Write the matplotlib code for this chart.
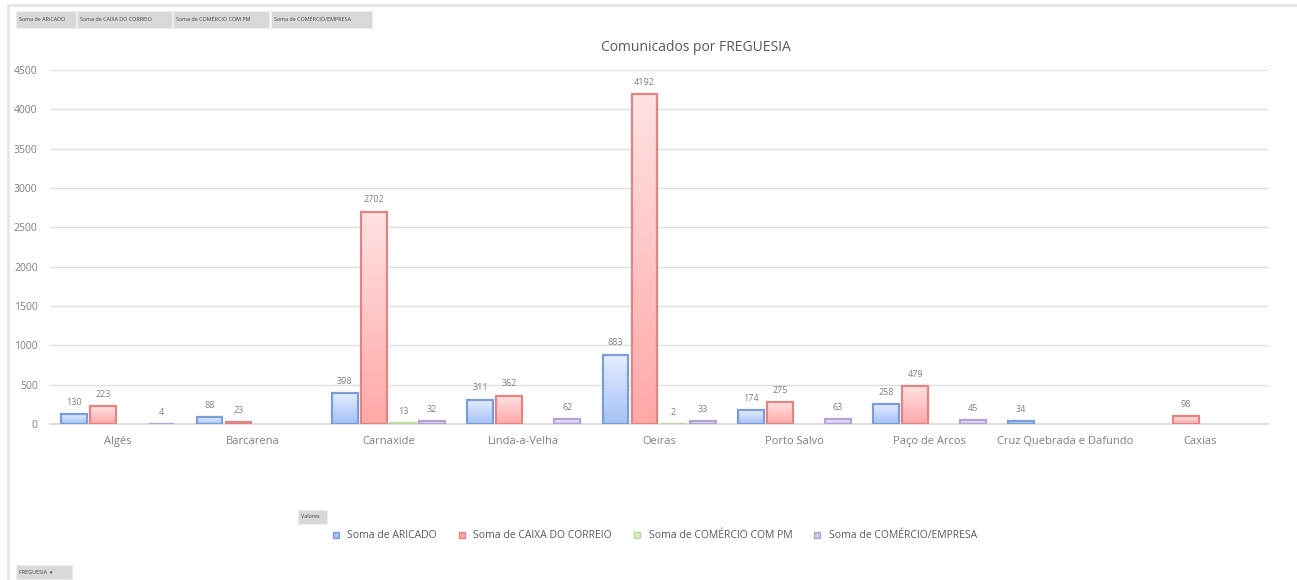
import numpy as np
import matplotlib.pyplot as plt
from matplotlib.colors import to_rgb
from matplotlib.patches import Rectangle
from matplotlib.lines import Line2D

freguesias = ['Algés', 'Barcarena', 'Carnaxide', 'Linda-a-Velha', 'Oeiras',
              'Porto Salvo', 'Paço de Arcos', 'Cruz Quebrada e Dafundo', 'Caxias']
series = ['Soma de ARICADO', 'Soma de CAIXA DO CORREIO',
          'Soma de COMÉRCIO COM PM', 'Soma de COMÉRCIO/EMPRESA']
aricado = [130, 88, 398, 311, 883, 174, 258, 34, None]
caixa = [223, 23, 2702, 362, 4192, 275, 479, None, 98]
comercio_pm = [None, None, 13, None, 2, None, None, None, None]
comercio_emp = [4, None, 32, 62, 33, 63, 45, None, None]
yticks = [0, 500, 1000, 1500, 2000, 2500, 3000, 3500, 4000, 4500]

values = [aricado, caixa, comercio_pm, comercio_emp]
edges = ['#7a9fd6', '#e08484', '#b9d99a', '#b3a2d4']
tops = ['#e6eeff', '#ffe2e2', '#f2f8ea', '#f0ecfa']
bottoms = ['#a6c2f7', '#ffa8a8', '#d9eec6', '#d2c6ee']

plt.rcParams['font.family'] = ['Open Sans', 'DejaVu Sans']
grey = '#7f7f7f'

W, H = 1297, 580
fig = plt.figure(figsize=(W / 100, H / 100), dpi=100)
ax = fig.add_axes([0.0386, 0.269, 0.939, 0.61])

x = np.arange(len(freguesias))
step = 0.215
width = 0.19

t = np.linspace(0, 1, 64).reshape(-1, 1, 1)
for i, vals in enumerate(values):
    grad = np.array(to_rgb(tops[i])) * (1 - t) + np.array(to_rgb(bottoms[i])) * t
    for j, v in enumerate(vals):
        if v is None:
            continue
        xc = x[j] + (i - 1.5) * step
        bar = ax.bar(xc, v, width, color='none', edgecolor=edges[i],
                     linewidth=1.6, zorder=3)[0]
        im = ax.imshow(grad, extent=[xc - width / 2, xc + width / 2, 0, v],
                       aspect='auto', origin='upper', zorder=2)
        im.set_clip_path(bar)
        ax.text(xc, v + 90, str(v), ha='center', va='bottom',
                fontsize=6.5, color=grey, zorder=4)

ax.set_xlim(-0.5, len(freguesias) - 0.5)
ax.set_ylim(0, 4500)
ax.set_yticks(yticks)
ax.set_xticks(x)
ax.set_xticklabels(freguesias, fontsize=8, color=grey)
ax.tick_params(axis='y', labelsize=7.5, labelcolor=grey, length=0, pad=9)
ax.tick_params(axis='x', length=0, pad=9)
ax.grid(axis='y', color='#e0e0e0', linewidth=1, zorder=0)
for s in ['top', 'right', 'left']:
    ax.spines[s].set_visible(False)
ax.spines['bottom'].set_color('#d9d9d9')
ax.spines['bottom'].set_linewidth(1.2)
ax.set_title('Comunicados por FREGUESIA', fontsize=10, color='#595959', pad=14, x=0.53)

# chart frame
fig.patches.append(Rectangle((8 / W, -0.01), 1.1, (H - 5) / H + 0.01,
                             transform=fig.transFigure, fill=False,
                             edgecolor='#e6e6e6', linewidth=2))


def button(x0, x1, y0, y1, label):
    fig.patches.append(Rectangle((x0 / W, 1 - y1 / H), (x1 - x0) / W, (y1 - y0) / H,
                                 transform=fig.transFigure, facecolor='#d9d9d9',
                                 edgecolor='#ececec', linewidth=0.8))
    fig.text((x0 + 3) / W, 1 - (y0 + y1) / 2 / H, label, fontsize=3.9,
             color='#404040', va='center', ha='left')


# pivot field buttons
btn_spans = [(16, 76), (77, 172), (173, 269), (271, 372)]
for (b0, b1), name in zip(btn_spans, series):
    button(b0, b1, 11, 28, name)
button(298, 327, 510, 524, 'Valores')
button(16, 72, 565, 579, 'FREGUESIA  ▾')

handles = [Line2D([0], [0], marker='s', linestyle='none', markersize=5,
                  markerfacecolor=bottoms[i], markeredgecolor=edges[i]) for i in range(4)]
fig.legend(handles, series, loc='center', bbox_to_anchor=(0.502, 0.076), ncol=4,
           frameon=False, fontsize=7.5, labelcolor='#595959', handletextpad=0.1,
           columnspacing=1.4)

fig.savefig('out.png', dpi=100)
